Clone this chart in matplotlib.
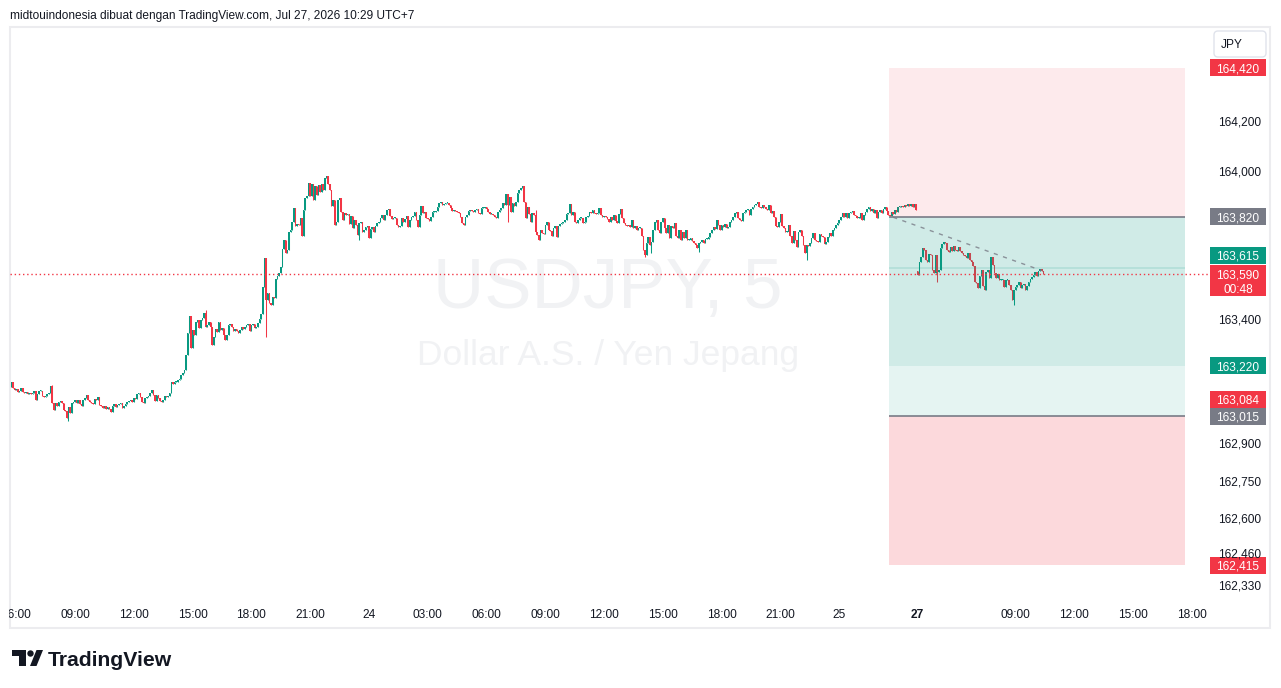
import numpy as np
import pandas as pd
import matplotlib
matplotlib.use('Agg')
import matplotlib.pyplot as plt
from matplotlib.patches import Rectangle, Polygon, Circle, FancyBboxPatch
from matplotlib.transforms import Bbox

plt.rcParams['font.family'] = ['Liberation Sans', 'DejaVu Sans']

# ---- USDJPY 5m closes (one value per bar) ----
close_23 = [  # Jul 23, 05:45 .. 23:55
    163.154, 163.130, 163.122, 163.126, 163.114, 163.118, 163.130, 163.114, 163.110, 163.114, 163.106, 163.110, 163.106, 163.110,
    163.118, 163.081, 163.106, 163.118, 163.118, 163.097, 163.093, 163.097, 163.106, 163.110, 163.138, 163.069,
    163.041, 163.069, 163.057, 163.073, 163.077, 163.069, 163.041, 163.037, 163.008, 163.053, 163.029, 163.069,
    163.073, 163.081, 163.069, 163.081, 163.065, 163.057, 163.081, 163.089, 163.101, 163.081, 163.073, 163.069,
    163.065, 163.085, 163.081, 163.093, 163.061, 163.057, 163.049, 163.057, 163.045, 163.053, 163.045, 163.033,
    163.057, 163.065, 163.053, 163.061, 163.065, 163.069, 163.049, 163.057, 163.065, 163.073, 163.077, 163.081,
    163.073, 163.089, 163.085, 163.106, 163.110, 163.093, 163.073, 163.069, 163.089, 163.093, 163.097, 163.110,
    163.122, 163.101, 163.077, 163.101, 163.089, 163.077, 163.073, 163.081, 163.097, 163.093, 163.097, 163.110,
    163.154, 163.146, 163.154, 163.154, 163.162, 163.166, 163.182, 163.190, 163.202, 163.263, 163.351, 163.420,
    163.291, 163.364, 163.343, 163.396, 163.404, 163.371, 163.404, 163.412, 163.432, 163.375, 163.384, 163.396,
    163.375, 163.303, 163.335, 163.367, 163.355, 163.396, 163.364, 163.371, 163.343, 163.323, 163.343, 163.384,
    163.388, 163.375, 163.359, 163.367, 163.359, 163.351, 163.364, 163.375, 163.367, 163.375, 163.384, 163.388,
    163.359, 163.384, 163.388, 163.371, 163.375, 163.392, 163.408, 163.428, 163.537, 163.654, 163.485, 163.513,
    163.472, 163.464, 163.496, 163.492, 163.569, 163.581, 163.593, 163.617, 163.690, 163.726, 163.674, 163.686,
    163.759, 163.767, 163.799, 163.855, 163.783, 163.791, 163.787, 163.815, 163.742, 163.847, 163.896, 163.904,
    163.956, 163.904, 163.952, 163.888, 163.944, 163.908, 163.948, 163.920, 163.952, 163.928, 163.976, 163.984,
    163.952, 163.928, 163.863, 163.888, 163.787, 163.799, 163.888, 163.896, 163.839, 163.807, 163.835, 163.827,
    163.831, 163.791, 163.823, 163.775, 163.807, 163.787, 163.746, 163.795, 163.799, 163.759, 163.767, 163.779, 163.783,
]
close_24 = [  # Jul 24, 00:00 .. 23:55
    163.734, 163.771, 163.779, 163.759, 163.783, 163.795, 163.799, 163.815, 163.827, 163.807, 163.827, 163.847,
    163.851, 163.823, 163.811, 163.815, 163.815, 163.787, 163.779, 163.783, 163.815, 163.799, 163.811, 163.823,
    163.779, 163.807, 163.819, 163.823, 163.839, 163.807, 163.779, 163.827, 163.863, 163.835, 163.839, 163.815,
    163.811, 163.803, 163.819, 163.839, 163.839, 163.843, 163.859, 163.875, 163.879, 163.867, 163.871, 163.875,
    163.875, 163.867, 163.855, 163.843, 163.847, 163.843, 163.839, 163.835, 163.819, 163.795, 163.787, 163.819,
    163.827, 163.843, 163.847, 163.843, 163.839, 163.847, 163.851, 163.835, 163.831, 163.855, 163.855, 163.859,
    163.851, 163.839, 163.831, 163.831, 163.827, 163.819, 163.815, 163.839, 163.847, 163.855, 163.875, 163.867,
    163.912, 163.867, 163.900, 163.839, 163.875, 163.863, 163.879, 163.916, 163.928, 163.936, 163.944, 163.879,
    163.815, 163.859, 163.831, 163.799, 163.835, 163.827, 163.759, 163.746, 163.726, 163.767, 163.755, 163.750,
    163.787, 163.799, 163.767, 163.763, 163.742, 163.775, 163.783, 163.738, 163.783, 163.791, 163.795, 163.799,
    163.807, 163.831, 163.835, 163.871, 163.827, 163.839, 163.799, 163.795, 163.807, 163.815, 163.815, 163.795,
    163.799, 163.819, 163.823, 163.839, 163.835, 163.847, 163.835, 163.831, 163.835, 163.855, 163.827, 163.819,
    163.823, 163.819, 163.811, 163.799, 163.819, 163.807, 163.827, 163.803, 163.795, 163.831, 163.851, 163.815,
    163.795, 163.787, 163.783, 163.787, 163.779, 163.807, 163.775, 163.783, 163.767, 163.775, 163.775, 163.742,
    163.686, 163.666, 163.714, 163.738, 163.706, 163.718, 163.767, 163.799, 163.807, 163.767, 163.755, 163.799,
    163.815, 163.775, 163.755, 163.787, 163.734, 163.783, 163.775, 163.795, 163.742, 163.734, 163.767, 163.726,
    163.759, 163.734, 163.767, 163.726, 163.726, 163.734, 163.722, 163.714, 163.706, 163.694, 163.714, 163.718,
    163.726, 163.714, 163.730, 163.730, 163.738, 163.755, 163.767, 163.779, 163.771, 163.807, 163.787, 163.767,
    163.787, 163.779, 163.791, 163.775, 163.779, 163.799, 163.807, 163.819, 163.835, 163.839, 163.815, 163.807,
    163.803, 163.835, 163.839, 163.847, 163.847, 163.827, 163.851, 163.859, 163.867, 163.871, 163.879, 163.859,
    163.855, 163.867, 163.859, 163.851, 163.847, 163.867, 163.835, 163.843, 163.819, 163.783, 163.779, 163.799,
    163.831, 163.783, 163.775, 163.759, 163.759, 163.787, 163.742, 163.714, 163.763, 163.726, 163.698, 163.759,
    163.767, 163.742, 163.706, 163.674, 163.706, 163.702, 163.714, 163.734, 163.755, 163.726, 163.722, 163.718,
    163.750, 163.742, 163.738, 163.710, 163.718, 163.738, 163.755, 163.742, 163.767, 163.775, 163.787, 163.795,
]
close_25 = [  # Jul 25, 00:00 .. 03:55 (market close)
    163.807, 163.819, 163.835, 163.819, 163.835, 163.815, 163.835, 163.839, 163.843, 163.827, 163.823, 163.815,
    163.815, 163.835, 163.807, 163.827, 163.839, 163.851, 163.859, 163.843, 163.851, 163.835, 163.847, 163.815,
    163.839, 163.847, 163.835, 163.851, 163.859, 163.843, 163.827, 163.823, 163.839, 163.831, 163.847, 163.839,
    163.859, 163.859, 163.863, 163.859, 163.867, 163.863, 163.871, 163.863, 163.871, 163.859, 163.871, 163.847,
]
close_27 = [  # Jul 27, 04:00 .. 10:25
    163.585, 163.638, 163.658, 163.694, 163.686, 163.646, 163.638, 163.670, 163.666, 163.605, 163.593, 163.666,
    163.597, 163.605, 163.694, 163.710, 163.718, 163.714, 163.686, 163.678, 163.698, 163.682, 163.702, 163.686,
    163.682, 163.698, 163.682, 163.674, 163.666, 163.662, 163.654, 163.674, 163.646, 163.638, 163.621, 163.557,
    163.553, 163.533, 163.581, 163.605, 163.541, 163.525, 163.597, 163.605, 163.573, 163.658, 163.626, 163.593,
    163.573, 163.589, 163.565, 163.565, 163.565, 163.537, 163.565, 163.565, 163.545, 163.525, 163.485, 163.525,
    163.537, 163.545, 163.557, 163.533, 163.545, 163.549, 163.525, 163.541, 163.557, 163.569, 163.577, 163.585,
    163.597, 163.581, 163.601, 163.609, 163.601, 163.590,
]
first_open = 163.134
monday_open = 163.600
wick_high = {25: 163.142, 119: 163.444, 321: 163.847}
wick_low = {35: 162.998, 156: 163.335, 213: 163.726, 304: 163.799, 388: 163.656,
            392: 163.674, 421: 163.678, 487: 163.646, 567: 163.557, 614: 163.464}

# position tools
short_stop, short_entry, short_target = 164.420, 163.820, 163.220
long_entry, long_target, long_stop = 163.015, 163.615, 162.415
last_price = 163.590
countdown = '00:48'
alert_price = 163.084
box_start, box_end = '2026-07-25 02:30', '2026-07-27 17:40'
trend = [('2026-07-25 02:45', 163.818), ('2026-07-27 10:20', 163.603)]

axis_prices = [164.200, 164.000, 163.400, 162.900, 162.750, 162.600, 162.460, 162.330]
tick_times = ['2026-07-23 06:00', '2026-07-23 09:00', '2026-07-23 12:00', '2026-07-23 15:00',
              '2026-07-23 18:00', '2026-07-23 21:00', '2026-07-24 00:00', '2026-07-24 03:00',
              '2026-07-24 06:00', '2026-07-24 09:00', '2026-07-24 12:00', '2026-07-24 15:00',
              '2026-07-24 18:00', '2026-07-24 21:00', '2026-07-25 00:00', '2026-07-27 04:00',
              '2026-07-27 09:00', '2026-07-27 12:00', '2026-07-27 15:00', '2026-07-27 18:00']
tick_labels = ['06:00', '09:00', '12:00', '15:00', '18:00', '21:00', '24', '03:00', '06:00', '09:00',
               '12:00', '15:00', '18:00', '21:00', '25', '27', '09:00', '12:00', '15:00', '18:00']

title = 'midtouindonesia dibuat dengan TradingView.com, Jul 27, 2026 10:29 UTC+7'

GREEN, RED, GREY, INK = '#089981', '#f23645', '#787b86', '#131722'
W, H = 1281, 688

sess1 = pd.date_range('2026-07-23 05:45', '2026-07-25 03:55', freq='5min')
sess2 = pd.date_range('2026-07-27 04:00', '2026-07-27 19:00', freq='5min')
times = sess1.append(sess2)


def pos(t):
    return times.get_loc(pd.Timestamp(t))


closes = np.array(close_23 + close_24 + close_25 + close_27)
n = len(closes)
opens = np.empty(n)
opens[0] = first_open
opens[1:] = closes[:-1]
opens[len(sess1)] = monday_open

fig = plt.figure(figsize=(W / 100, H / 100), dpi=100, facecolor='white')
bg = fig.add_axes([0, 0, 1, 1])
bg.set_xlim(0, W); bg.set_ylim(H, 0); bg.axis('off')
ax = fig.add_axes([10 / W, 90 / H, 1198 / W, 570 / H])
ax.set_xlim(-0.8, 732.8)
ax.set_ylim(162.283, 164.581)
ax.axis('off')
ov = fig.add_axes([0, 0, 1, 1])
ov.set_xlim(0, W); ov.set_ylim(H, 0); ov.axis('off')


def py(p):
    return H - ax.transData.transform((0, p))[1]


def px(i):
    return ax.transData.transform((i, 0))[0]


ppx = ax.transData.transform((0, 1))[1] - ax.transData.transform((0, 0))[1]

# frame + watermark
bg.add_patch(Rectangle((10, 27), 1260, 601, fill=False, ec='#ececef', lw=1.5))
bg.text(608, 290, 'USDJPY, 5', fontsize=51, color='#f1f2f4', ha='center', va='center')
bg.text(608, 355, 'Dollar A.S. / Yen Jepang', fontsize=25.5, color='#f1f2f4', ha='center', va='center')

# candles
x = np.arange(n)
lo = np.minimum(opens, closes)
hi = np.maximum(opens, closes)
hi = np.maximum(hi, lo + 1.3 / ppx)
cols = np.where(closes >= opens, GREEN, RED)
wl, wh = lo.copy(), hi.copy()
for k, v in wick_low.items():
    wl[k] = min(wl[k], v)
for k, v in wick_high.items():
    wh[k] = max(wh[k], v)
ax.vlines(x, wl, wh, colors=cols, linewidth=0.75, zorder=2)
ax.bar(x, hi - lo, bottom=lo, width=0.95, color=cols, linewidth=0, zorder=2)

# position boxes
x0, x1 = pos(box_start) + 0.5, pos(box_end)
zones = [(short_entry, short_stop, RED, 0.10), (short_target, short_entry, GREEN, 0.19),
         (long_entry, short_target, GREEN, 0.10), (long_stop, long_entry, RED, 0.19)]
for a, b, c, al in zones:
    ax.add_patch(Rectangle((x0, a), x1 - x0, b - a, fc=c, alpha=al, ec='none', zorder=3))
ax.hlines(long_target, x0, x1, color=GREEN, alpha=0.15, lw=1.2, zorder=3)
ax.hlines([short_entry, long_entry], x0, x1, color=GREY, lw=1.2, zorder=4)
ax.plot([pos(t) for t, _ in trend], [p for _, p in trend], color=GREY, lw=1.0,
        ls=(0, (3, 4)), alpha=0.8, zorder=4)
ax.axhline(last_price, color=RED, lw=1.0, ls=(0, (1, 2)), zorder=5)

# price scale
fmt = lambda p: f'{p:.3f}'.replace('.', ',')
for p in axis_prices:
    ov.text(1240, py(p) - 1.5, fmt(p), fontsize=8.6, color=INK, ha='center', va='center_baseline')


def tag(p, color, shift=0, sub=None):
    y = py(p) + shift
    h = 31 if sub else 17
    ov.add_patch(Rectangle((1210, y - 8.5), 56, h, fc=color, ec='none'))
    ov.text(1238, y, fmt(p), fontsize=8.6, color='white', ha='center', va='center_baseline')
    if sub:
        ov.text(1238, y + 15, sub, fontsize=8.6, color='white', ha='center', va='center_baseline')


tag(short_stop, RED)
tag(short_entry, GREY)
tag(long_target, GREEN, shift=-12.6)
tag(last_price, RED, sub=countdown)
tag(short_target, GREEN)
tag(alert_price, RED)
tag(long_entry, GREY)
tag(long_stop, RED)

ov.add_patch(FancyBboxPatch((1214, 31), 52, 26, boxstyle='round,pad=0,rounding_size=4',
                            fc='white', ec='#e0e3eb', lw=1))
ov.text(1232, 44, 'JPY', fontsize=8.6, color=INK, ha='center', va='center_baseline')

# time scale
clip = Bbox.from_extents(9, 0, W, H)
for t, lab in zip(tick_times, tick_labels):
    tx = ov.text(px(pos(t)), 613, lab, fontsize=8.6, color=INK, ha='center', va='center_baseline',
                 fontweight='bold' if lab == '27' else 'normal')
    tx.set_clip_box(clip)
    tx.set_clip_on(True)

# header and logo
ov.text(10, 14, title, fontsize=8.6, color=INK, ha='left', va='center_baseline')
ov.add_patch(Polygon([(12, 650), (26, 650), (26, 666), (19, 666), (19, 656), (12, 656)], fc=INK, ec='none'))
ov.add_patch(Circle((30.5, 653.5), 3.2, fc=INK, ec='none'))
ov.add_patch(Polygon([(30, 666), (36.5, 650), (43, 650), (36.5, 666)], fc=INK, ec='none'))
ov.text(48, 658, 'TradingView', fontsize=15.2, fontweight='bold', color=INK, ha='left', va='center_baseline')

fig.savefig('out.png', dpi=100, facecolor='white')
